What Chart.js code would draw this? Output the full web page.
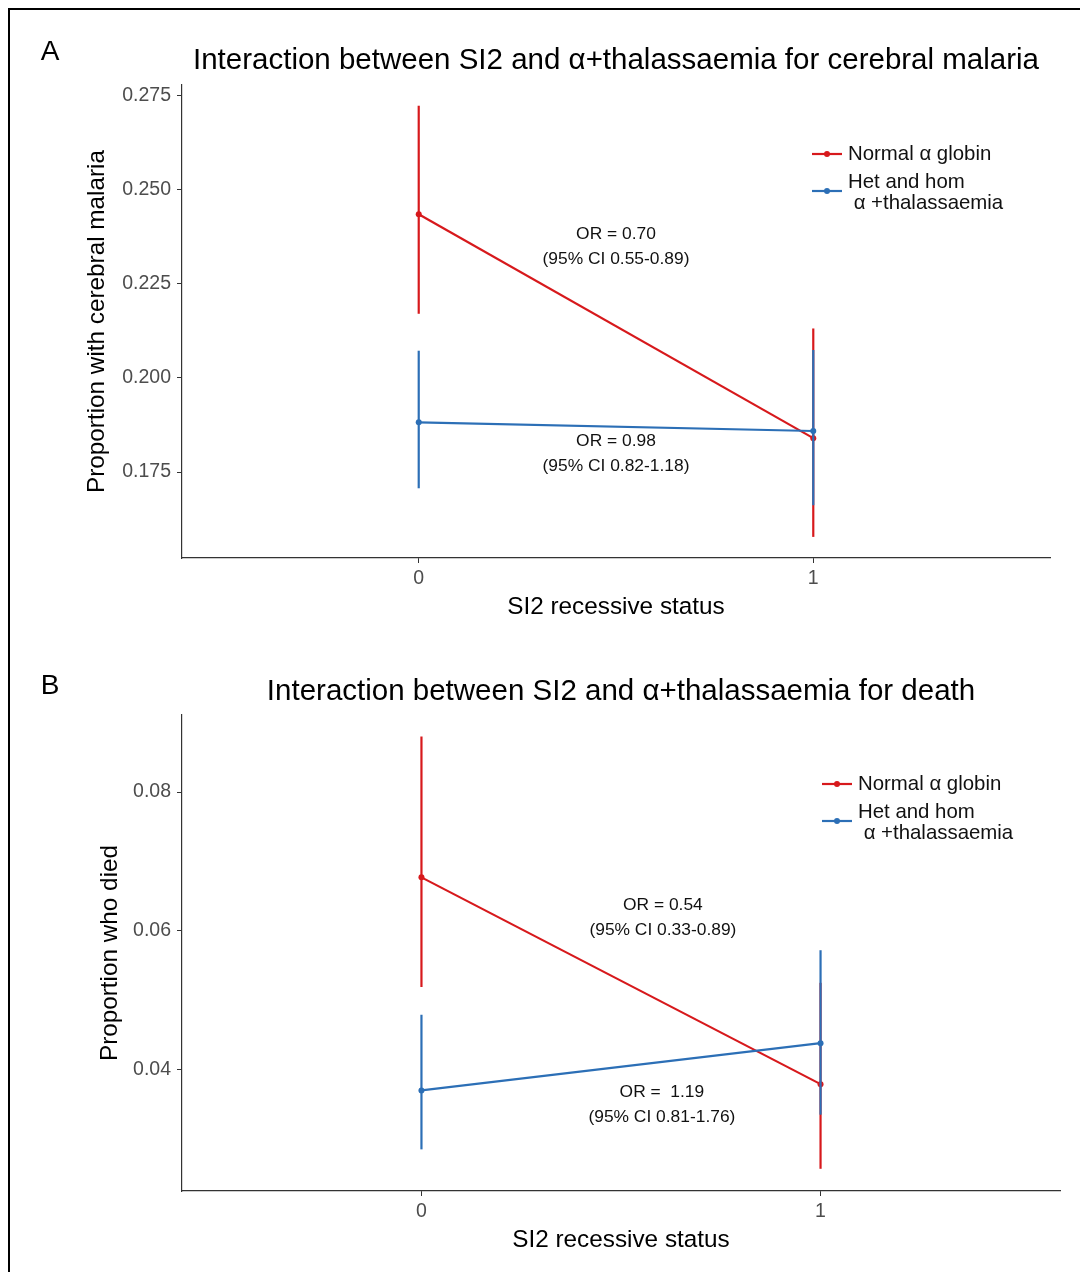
<!DOCTYPE html>
<html>
<head>
<meta charset="utf-8">
<script src="https://cdn.jsdelivr.net/npm/chart.js@4.4.1/dist/chart.umd.min.js"></script>
<style>
  body { margin: 0; background: #fff; }
  #wrap { position: relative; width: 1080px; height: 1272px; overflow: hidden; }
  #frame { position: absolute; left: 8px; top: 8px; width: 1200px; height: 1400px;
           border-top: 2px solid #000; border-left: 2px solid #000; }
  canvas { position: absolute; left: 0; }
</style>
</head>
<body>
<div id="wrap">
  <canvas id="chartA" width="1080" height="634" style="top:0"></canvas>
  <canvas id="chartB" width="1080" height="638" style="top:634px"></canvas>
  <div id="frame"></div>
</div>
<script>
// shared x categories
const xCats = [0, 1];
const xTickLabels = ["0", "1"];
const seriesNames = ["Normal \u03b1 globin", "Het and hom\n \u03b1 +thalassaemia"];

// panel A: cerebral malaria
const cmNormal   = [0.2434, 0.1840];
const cmNormalLo = [0.2170, 0.1578];
const cmNormalHi = [0.2722, 0.2131];
const cmThal     = [0.1882, 0.1859];
const cmThalLo   = [0.1707, 0.1662];
const cmThalHi   = [0.2072, 0.2074];
const cmTicks    = [0.175, 0.200, 0.225, 0.250, 0.275];

// panel B: death
const deathNormal   = [0.0677, 0.0379];
const deathNormalLo = [0.0519, 0.0257];
const deathNormalHi = [0.0880, 0.0525];
const deathThal     = [0.0370, 0.0438];
const deathThalLo   = [0.0285, 0.0335];
const deathThalHi   = [0.0479, 0.0572];
const deathTicks    = [0.04, 0.06, 0.08];

const RED = "#d7191c";
const BLUE = "#2c6fb6";
const FONT = "'Liberation Sans', Arial, sans-serif";

function seriesDatasets(vals, lo, hi, color, order) {
    const sets = [];
    xCats.forEach((x, i) => {
        sets.push({
            data: [{ x: x, y: lo[i] }, { x: x, y: hi[i] }],
            showLine: true, borderColor: color, borderWidth: 2.2,
            pointRadius: 0, order: order
        });
    });
    sets.push({
        data: xCats.map((x, i) => ({ x: x, y: vals[i] })),
        showLine: true, borderColor: color, borderWidth: 2.2,
        pointRadius: 3, pointBackgroundColor: color, pointBorderWidth: 0,
        order: order
    });
    return sets;
}

// draws title, panel letter, axis titles, legend and OR notes
function decorPlugin(p) {
    return {
        id: "decor",
        afterDraw(chart) {
            const ctx = chart.ctx;
            const a = chart.chartArea;
            const xs = chart.scales.x, ys = chart.scales.y;
            ctx.save();
            ctx.fillStyle = "#000";
            ctx.textBaseline = "middle";

            ctx.font = "28px " + FONT;
            ctx.textAlign = "center";
            ctx.fillText(p.letter, 50, p.letterY);

            ctx.font = "29.5px " + FONT;
            ctx.fillText(p.title, (a.left + a.right) / 2, p.titleY);

            ctx.font = "24.3px " + FONT;
            ctx.fillText("SI2 recessive status", (a.left + a.right) / 2, a.bottom + 49);

            ctx.save();
            ctx.translate(p.yTitleX, (a.top + a.bottom) / 2);
            ctx.rotate(-Math.PI / 2);
            ctx.fillText(p.yTitle, 0, 0);
            ctx.restore();

            // notes
            ctx.font = "17.4px " + FONT;
            ctx.fillStyle = "#111";
            p.notes.forEach(n => {
                const cx = xs.getPixelForValue(n.x);
                const cy = ys.getPixelForValue(n.y);
                ctx.fillText(n.lines[0], cx, cy);
                ctx.fillText(n.lines[1], cx, cy + 25);
            });

            // legend
            const lx = a.right - 238;
            const ly = [a.top + 69, a.top + 106];
            ctx.textAlign = "left";
            ctx.font = "20.4px " + FONT;
            [RED, BLUE].forEach((c, i) => {
                ctx.strokeStyle = c;
                ctx.lineWidth = 2.2;
                ctx.beginPath();
                ctx.moveTo(lx, ly[i]);
                ctx.lineTo(lx + 30, ly[i]);
                ctx.stroke();
                ctx.fillStyle = c;
                ctx.beginPath();
                ctx.arc(lx + 15, ly[i], 3, 0, Math.PI * 2);
                ctx.fill();
                ctx.fillStyle = "#111";
                const parts = seriesNames[i].split("\n");
                parts.forEach((t, k) => {
                    const off = (k - (parts.length - 1) / 2) * 21 + (parts.length > 1 ? 1.5 : 0);
                    ctx.fillText(t, lx + 36, ly[i] + off);
                });
            });
            ctx.restore();
        }
    };
}

function makeChart(id, p) {
    const canvas = document.getElementById(id);
    return new Chart(canvas, {
        type: "scatter",
        data: {
            datasets: [
                ...seriesDatasets(p.normal, p.normalLo, p.normalHi, RED, 1),
                ...seriesDatasets(p.thal, p.thalLo, p.thalHi, BLUE, 0)
            ]
        },
        options: {
            responsive: false,
            animation: false,
            layout: { padding: { left: 0, top: p.top, right: p.right, bottom: 0 } },
            plugins: { legend: { display: false }, tooltip: { enabled: false } },
            scales: {
                x: {
                    type: "linear", min: -0.6, max: 1.6,
                    afterBuildTicks: s => { s.ticks = xCats.map(v => ({ value: v })); },
                    afterFit: s => { s.height = canvas.height - p.bottom; },
                    ticks: {
                        callback: (v) => xTickLabels[xCats.indexOf(v)],
                        color: "#4d4d4d", font: { family: FONT, size: 19.5 }, padding: 4,
                        maxRotation: 0
                    },
                    grid: { drawOnChartArea: false, tickLength: 5, tickColor: "#333" },
                    border: { color: "#333", width: 1.2 }
                },
                y: {
                    type: "linear", min: p.yMin, max: p.yMax,
                    afterBuildTicks: s => { s.ticks = p.ticks.map(v => ({ value: v })); },
                    afterFit: s => { s.width = 182; },
                    ticks: {
                        callback: (v) => v.toFixed(p.digits),
                        color: "#4d4d4d", font: { family: FONT, size: 19.5 }, padding: 6
                    },
                    grid: { drawOnChartArea: false, tickLength: 5, tickColor: "#333" },
                    border: { color: "#333", width: 1.2 }
                }
            }
        },
        plugins: [decorPlugin(p)]
    });
}

makeChart("chartA", {
    normal: cmNormal, normalLo: cmNormalLo, normalHi: cmNormalHi,
    thal: cmThal, thalLo: cmThalLo, thalHi: cmThalHi,
    ticks: cmTicks, digits: 3, yMin: 0.1522, yMax: 0.2777,
    top: 85, right: 30, bottom: 558,
    letter: "A", letterY: 52, titleY: 61, yTitleX: 97,
    title: "Interaction between SI2 and \u03b1+thalassaemia for cerebral malaria",
    yTitle: "Proportion with cerebral malaria",
    notes: [
        { x: 0.5, y: 0.2381, lines: ["OR = 0.70", "(95% CI 0.55-0.89)"] },
        { x: 0.5, y: 0.1832, lines: ["OR = 0.98", "(95% CI 0.82-1.18)"] }
    ]
});

makeChart("chartB", {
    normal: deathNormal, normalLo: deathNormalLo, normalHi: deathNormalHi,
    thal: deathThal, thalLo: deathThalLo, thalHi: deathThalHi,
    ticks: deathTicks, digits: 2, yMin: 0.0225, yMax: 0.0911,
    top: 81, right: 20, bottom: 557,
    letter: "B", letterY: 52, titleY: 58, yTitleX: 110,
    title: "Interaction between SI2 and \u03b1+thalassaemia for death",
    yTitle: "Proportion who died",
    notes: [
        { x: 0.605, y: 0.0637, lines: ["OR = 0.54", "(95% CI 0.33-0.89)"] },
        { x: 0.6025, y: 0.0367, lines: ["OR =  1.19", "(95% CI 0.81-1.76)"] }
    ]
});
</script>
</body>
</html>
